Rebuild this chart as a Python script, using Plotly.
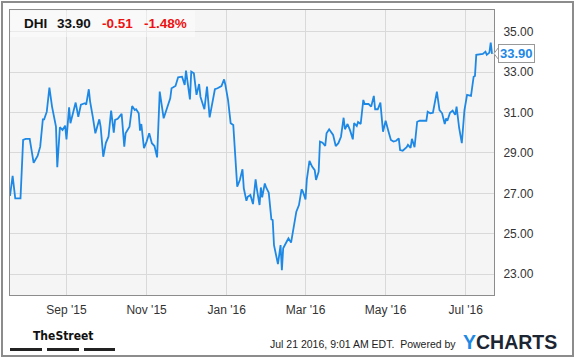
import plotly.graph_objects as go

# ---- data ----
dates = [
    "2015-07-20", "2015-07-22", "2015-07-24", "2015-07-28", "2015-07-30", "2015-08-01", "2015-08-04",
    "2015-08-06", "2015-08-07", "2015-08-10", "2015-08-12", "2015-08-14", "2015-08-15", "2015-08-17",
    "2015-08-19", "2015-08-21", "2015-08-24", "2015-08-25", "2015-08-27", "2015-08-29", "2015-08-31",
    "2015-09-01", "2015-09-03", "2015-09-04", "2015-09-06", "2015-09-08", "2015-09-10", "2015-09-12",
    "2015-09-15", "2015-09-16", "2015-09-18", "2015-09-19", "2015-09-21", "2015-09-23", "2015-09-26",
    "2015-09-27", "2015-09-29", "2015-10-01", "2015-10-03", "2015-10-05", "2015-10-07", "2015-10-08",
    "2015-10-10", "2015-10-13", "2015-10-15", "2015-10-16", "2015-10-19", "2015-10-21", "2015-10-23",
    "2015-10-24", "2015-10-26", "2015-10-27", "2015-10-28", "2015-10-30", "2015-11-01", "2015-11-03",
    "2015-11-05", "2015-11-07", "2015-11-09", "2015-11-11", "2015-11-14", "2015-11-16", "2015-11-17",
    "2015-11-19", "2015-11-20", "2015-11-23", "2015-11-25", "2015-11-28", "2015-11-30", "2015-12-01",
    "2015-12-04", "2015-12-05", "2015-12-07", "2015-12-09", "2015-12-11", "2015-12-12", "2015-12-15",
    "2015-12-17", "2015-12-19", "2015-12-21", "2015-12-23", "2015-12-25", "2015-12-28", "2015-12-30",
    "2015-12-31", "2016-01-02", "2016-01-04", "2016-01-06", "2016-01-09", "2016-01-11", "2016-01-13",
    "2016-01-14", "2016-01-16", "2016-01-17", "2016-01-19", "2016-01-21", "2016-01-23", "2016-01-24",
    "2016-01-26", "2016-01-27", "2016-01-28", "2016-01-30", "2016-01-31", "2016-02-02", "2016-02-04",
    "2016-02-05", "2016-02-06", "2016-02-09", "2016-02-11", "2016-02-12", "2016-02-13", "2016-02-15",
    "2016-02-17", "2016-02-19", "2016-02-21", "2016-02-23", "2016-02-25", "2016-02-27", "2016-02-28",
    "2016-03-01", "2016-03-02", "2016-03-04", "2016-03-06", "2016-03-08", "2016-03-09", "2016-03-11",
    "2016-03-12", "2016-03-14", "2016-03-16", "2016-03-17", "2016-03-19", "2016-03-21", "2016-03-22",
    "2016-03-24", "2016-03-26", "2016-03-28", "2016-03-30", "2016-03-31", "2016-04-02", "2016-04-04",
    "2016-04-06", "2016-04-07", "2016-04-09", "2016-04-10", "2016-04-12", "2016-04-14", "2016-04-15",
    "2016-04-18", "2016-04-20", "2016-04-22", "2016-04-23", "2016-04-25", "2016-04-27", "2016-04-29",
    "2016-05-01", "2016-05-03", "2016-05-05", "2016-05-07", "2016-05-09", "2016-05-11", "2016-05-12",
    "2016-05-14", "2016-05-17", "2016-05-18", "2016-05-20", "2016-05-21", "2016-05-23", "2016-05-25",
    "2016-05-27", "2016-05-30", "2016-06-01", "2016-06-02", "2016-06-04", "2016-06-06", "2016-06-09",
    "2016-06-11", "2016-06-13", "2016-06-15", "2016-06-16", "2016-06-17", "2016-06-19", "2016-06-21",
    "2016-06-23", "2016-06-24", "2016-06-25", "2016-06-26", "2016-06-28", "2016-06-30", "2016-07-02",
    "2016-07-05", "2016-07-07", "2016-07-08", "2016-07-09", "2016-07-12", "2016-07-14", "2016-07-16",
    "2016-07-17", "2016-07-19", "2016-07-20", "2016-07-21",
]
prices = [
    26.87, 27.86, 26.75, 26.75, 29.64, 29.69, 29.69,
    28.73, 28.51, 28.85, 29.31, 30.66, 30.66, 31.04,
    32.23, 31.29, 30.30, 28.29, 30.27, 30.13, 30.35,
    29.67, 31.26, 30.47, 31.01, 31.49, 30.79, 31.39,
    31.46, 31.39, 32.15, 31.54, 30.79, 29.97, 30.66,
    30.30, 28.81, 29.50, 29.80, 31.09, 30.00, 30.63,
    30.69, 30.93, 29.31, 29.97, 30.30, 31.32, 31.12,
    31.16, 30.96, 30.10, 30.43, 29.23, 29.56, 29.97,
    29.48, 29.34, 28.78, 32.03, 30.71, 31.09, 31.37,
    31.70, 32.20, 32.31, 32.74, 32.77, 32.36, 33.07,
    31.65, 33.02, 32.94, 31.87, 32.41, 31.78, 31.16,
    32.28, 30.76, 31.37, 32.15, 32.20, 32.31, 32.64,
    32.36, 31.62, 30.47, 30.38, 27.33, 27.66, 28.19,
    27.25, 26.63, 26.83, 26.92, 26.47, 27.69, 27.20,
    26.42, 27.29, 26.80, 27.49, 27.29, 27.03, 25.71,
    25.68, 24.44, 23.50, 24.44, 23.20, 24.28, 24.53,
    24.77, 24.56, 25.35, 26.09, 26.42, 27.20, 27.08,
    26.70, 27.69, 28.61, 28.32, 28.15, 27.66, 28.07,
    29.56, 29.50, 29.34, 29.97, 30.17, 30.00, 29.89,
    29.34, 29.48, 29.80, 30.74, 30.17, 30.43, 30.10,
    29.67, 30.47, 30.33, 30.53, 30.43, 31.62, 31.42,
    31.42, 31.29, 31.82, 31.16, 31.16, 31.49, 30.05,
    30.59, 30.10, 29.64, 29.56, 29.60, 29.72, 29.14,
    29.11, 29.28, 29.40, 29.25, 29.70, 29.28, 30.54,
    30.59, 30.59, 30.59, 31.04, 30.96, 30.99, 32.03,
    31.12, 30.96, 30.43, 30.71, 30.59, 30.99, 31.09,
    30.88, 31.29, 30.76, 30.22, 29.48, 31.12, 31.87,
    31.82, 32.77, 32.81, 33.85, 33.90, 33.90, 34.01,
    33.85, 33.96, 34.46, 33.90,
]
tick_dates = ["2015-09-01", "2015-11-01", "2016-01-01", "2016-03-01", "2016-05-01", "2016-07-01"]
tick_labels = ["Sep '15", "Nov '15", "Jan '16", "Mar '16", "May '16", "Jul '16"]
y_ticks = [23, 25, 27, 29, 31, 33, 35]
ticker = "DHI"
last_price = "33.90"
change = "-0.51"
change_pct = "-1.48%"
timestamp = "Jul 21 2016, 9:01 AM EDT.  Powered by"

# ---- geometry helpers (pixel -> paper) ----
W, H = 575, 358
PL, PR, PT, PB = 10, 494, 10, 295


def px(x):
    return (x - PL) / (PR - PL)


def py(y):
    return (PB - y) / (PB - PT)


BLUE = "#1e88e5"
FONT = "Arial, Liberation Sans, sans-serif"

fig = go.Figure()
fig.add_trace(go.Scatter(x=dates, y=prices, mode="lines",
                         line=dict(color=BLUE, width=1.8), hoverinfo="skip"))

shapes = [
    # outer frame
    dict(type="rect", xref="paper", yref="paper", x0=px(2), x1=px(573), y0=py(356), y1=py(2),
         line=dict(color="#8c8c8c", width=2), fillcolor="rgba(0,0,0,0)", layer="below"),
    # header band
    dict(type="rect", xref="paper", yref="paper", x0=px(10.5), x1=px(195), y0=py(37), y1=py(10.5),
         line=dict(width=0), fillcolor="rgba(255,255,255,0.45)", layer="above"),
    # pointer of the price flag
    dict(type="path", xref="paper", yref="paper",
         path=f"M {px(498.5)} {py(47.5)} L {px(494)} {py(53.5)} L {px(498.5)} {py(59.5)}",
         line=dict(color="#999999", width=1), fillcolor="white"),
]
# TheStreet bars
for x0, x1 in [(10, 42), (47, 79), (84, 115)]:
    shapes.append(dict(type="rect", xref="paper", yref="paper", x0=px(x0), x1=px(x1),
                       y0=py(351), y1=py(348), line=dict(width=0), fillcolor="#222222"))

annotations = []
hdr = [(21.5, ticker, "#111111"), (55, last_price, "#111111"),
       (100, change, "#ee1111"), (141.5, change_pct, "#ee1111")]
for x, t, c in hdr:
    annotations.append(dict(xref="paper", yref="paper", x=px(x), y=py(23.5), xanchor="left",
                            yanchor="middle", text=f"<b>{t}</b>", showarrow=False,
                            font=dict(family=FONT, size=13.5, color=c)))
# price flag
annotations.append(dict(xref="paper", yref="paper", x=px(498), y=py(53.5), xanchor="left",
                        yanchor="middle", text=f"<b>{last_price}</b>", showarrow=False,
                        bgcolor="white", bordercolor="#999999", borderwidth=1, borderpad=1,
                        font=dict(family=FONT, size=13, color=BLUE)))
# footer
annotations.append(dict(xref="paper", yref="paper", x=px(63), y=py(336), xanchor="center",
                        yanchor="middle", text="<b>TheStreet</b>", showarrow=False,
                        font=dict(family="DejaVu Sans Condensed, DejaVu Sans", size=12,
                                  color="#111111")))
annotations.append(dict(xref="paper", yref="paper", x=px(458), y=py(344), xanchor="right",
                        yanchor="middle", text=timestamp, showarrow=False,
                        font=dict(family=FONT, size=10.5, color="#222222")))
annotations.append(dict(xref="paper", yref="paper", x=px(461), y=py(341.5), xanchor="left",
                        yanchor="middle",
                        text=f"<b><span style='color:{BLUE}'>Y</span>CHARTS</b>",
                        showarrow=False, font=dict(family=FONT, size=19.5, color="#1c2633")))

fig.update_layout(
    width=W, height=H,
    margin=dict(l=PL, r=W - PR, t=PT, b=H - PB, pad=0),
    paper_bgcolor="white", plot_bgcolor="#f5f5f5",
    showlegend=False,
    shapes=shapes, annotations=annotations,
    xaxis=dict(type="date", range=["2015-07-20", "2016-07-22 12:00"],
               tickvals=tick_dates, ticktext=tick_labels,
               showgrid=True, gridcolor="#d9d9d9", gridwidth=1,
               showline=True, linecolor="#8c8c8c", linewidth=1, mirror=True,
               ticks="", zeroline=False, ticklabelstandoff=4,
               tickfont=dict(family=FONT, size=12, color="#333333")),
    yaxis=dict(range=[21.97, 36.07], side="right", tickvals=y_ticks,
               tickformat=".2f", showgrid=True, gridcolor="#d9d9d9", gridwidth=1,
               showline=True, linecolor="#8c8c8c", linewidth=1, mirror=True,
               ticks="", zeroline=False, ticklabelstandoff=6,
               tickfont=dict(family=FONT, size=12, color="#333333")),
)

fig.write_html("out.html", config={"displayModeBar": False},
               post_script="document.body.style.margin='0';document.body.style.overflow='hidden';")
